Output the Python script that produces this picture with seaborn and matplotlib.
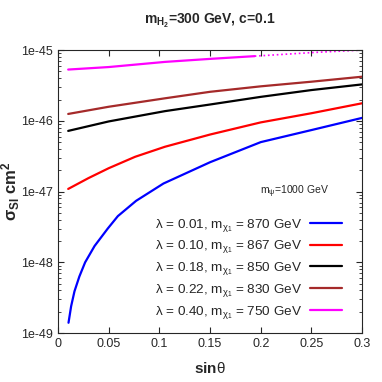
import matplotlib
matplotlib.use("Agg")
import matplotlib.pyplot as plt
import matplotlib.ticker as mticker
import seaborn as sns
import pandas as pd

# data (sin theta, sigma_SI in cm^2)
sin_blue = [0.0103, 0.0129, 0.0162, 0.021, 0.0267, 0.036, 0.049, 0.059, 0.077,
            0.104, 0.15, 0.2, 0.25, 0.3]
sig_blue = [1.4e-49, 2.4e-49, 3.9e-49, 6.3e-49, 1.0e-48, 1.7e-48, 3.0e-48, 4.5e-48, 7.4e-48,
            1.3e-47, 2.6e-47, 5.0e-47, 7.4e-47, 1.1e-46]

sin_red = [0.01, 0.03, 0.05, 0.076, 0.1055, 0.15, 0.2, 0.25, 0.3]
sig_red = [1.09e-47, 1.55e-47, 2.14e-47, 3.1e-47, 4.3e-47, 6.4e-47, 9.5e-47, 1.28e-46, 1.77e-46]

sin_pts = [0.01, 0.05, 0.1055, 0.15, 0.2, 0.25, 0.3]
sig_black = [7.2e-47, 9.8e-47, 1.37e-46, 1.7e-46, 2.18e-46, 2.72e-46, 3.27e-46]
sig_brown = [1.25e-46, 1.58e-46, 2.08e-46, 2.57e-46, 3.07e-46, 3.57e-46, 4.2e-46]

sin_mag = [0.01, 0.05, 0.1055, 0.15, 0.194]
sig_mag = [5.3e-46, 5.75e-46, 6.8e-46, 7.5e-46, 8.2e-46]
sin_mag_dot = [0.194, 0.2, 0.25, 0.3]
sig_mag_dot = [8.2e-46, 8.3e-46, 9.2e-46, 1.0e-45]

labels = [r"$\lambda$ = 0.01, m$_{\chi_1}$ = 870 GeV",
          r"$\lambda$ = 0.10, m$_{\chi_1}$ = 867 GeV",
          r"$\lambda$ = 0.18, m$_{\chi_1}$ = 850 GeV",
          r"$\lambda$ = 0.22, m$_{\chi_1}$ = 830 GeV",
          r"$\lambda$ = 0.40, m$_{\chi_1}$ = 750 GeV"]
colors = ["#0000ff", "#ff0000", "#000000", "#a52a2a", "#ff00ff"]

xticks = [0, 0.05, 0.1, 0.15, 0.2, 0.25, 0.3]
xticklabels = ["0", "0.05", "0.1", "0.15", "0.2", "0.25", "0.3"]
yticks = [1e-49, 1e-48, 1e-47, 1e-46, 1e-45]
yticklabels = ["1e-49", "1e-48", "1e-47", "1e-46", "1e-45"]

sns.set_style("ticks")
plt.rcParams["font.family"] = ["Liberation Sans", "DejaVu Sans"]
plt.rcParams["mathtext.fontset"] = "custom"
plt.rcParams["mathtext.rm"] = "Liberation Sans"
plt.rcParams["mathtext.it"] = "Liberation Sans"
plt.rcParams["mathtext.bf"] = "Liberation Sans:bold"

fig, ax = plt.subplots(figsize=(3.82, 3.82), dpi=100)
fig.subplots_adjust(left=0.152, right=0.948, top=0.869, bottom=0.128)

series = [(sin_blue, sig_blue), (sin_red, sig_red), (sin_pts, sig_black),
          (sin_pts, sig_brown), (sin_mag, sig_mag)]
for (xs, ys), lab, col in zip(series, labels, colors):
    df = pd.DataFrame({"s": xs, "sig": ys})
    sns.lineplot(data=df, x="s", y="sig", ax=ax, color=col, lw=1.6, label=lab)
df = pd.DataFrame({"s": sin_mag_dot, "sig": sig_mag_dot})
sns.lineplot(data=df, x="s", y="sig", ax=ax, color=colors[4], lw=1.2, ls=":")

ax.set_yscale("log")
ax.set_xlim(0, 0.3)
ax.set_ylim(1e-49, 1e-45)
ax.set_xticks(xticks)
ax.set_xticklabels(xticklabels)
ax.set_yticks(yticks)
ax.set_yticklabels(yticklabels)
ax.yaxis.set_minor_locator(mticker.LogLocator(base=10, subs=range(2, 10)))
ax.yaxis.set_minor_formatter(mticker.NullFormatter())
ax.tick_params(which="both", direction="in", top=True, right=True, labelsize=9)
ax.tick_params(which="major", length=4)
ax.tick_params(which="minor", length=2)
for sp in ax.spines.values():
    sp.set_linewidth(0.8)

ax.set_xlabel(r"sin$\theta$", fontsize=11, fontweight="bold", labelpad=8)
ax.set_ylabel(r"$\mathbf{\sigma_{SI}}$ cm$^{\mathbf{2}}$", fontsize=12, fontweight="bold")
ax.yaxis.set_label_coords(-0.12, 0.5)
ax.set_title(r"m$_{\mathbf{H_2}}$=300 GeV, c=0.1", fontsize=10, fontweight="bold", pad=19)
ax.text(0.665, 0.50, r"m$_\psi$=1000 GeV", transform=ax.transAxes, fontsize=7.5, va="center")

ax.legend(loc="lower right", bbox_to_anchor=(0.975, 0.0), frameon=False, markerfirst=False,
          fontsize=9.7, handlelength=2.4, labelspacing=0.36, handletextpad=0.6)

plt.savefig("out.png", dpi=100)
